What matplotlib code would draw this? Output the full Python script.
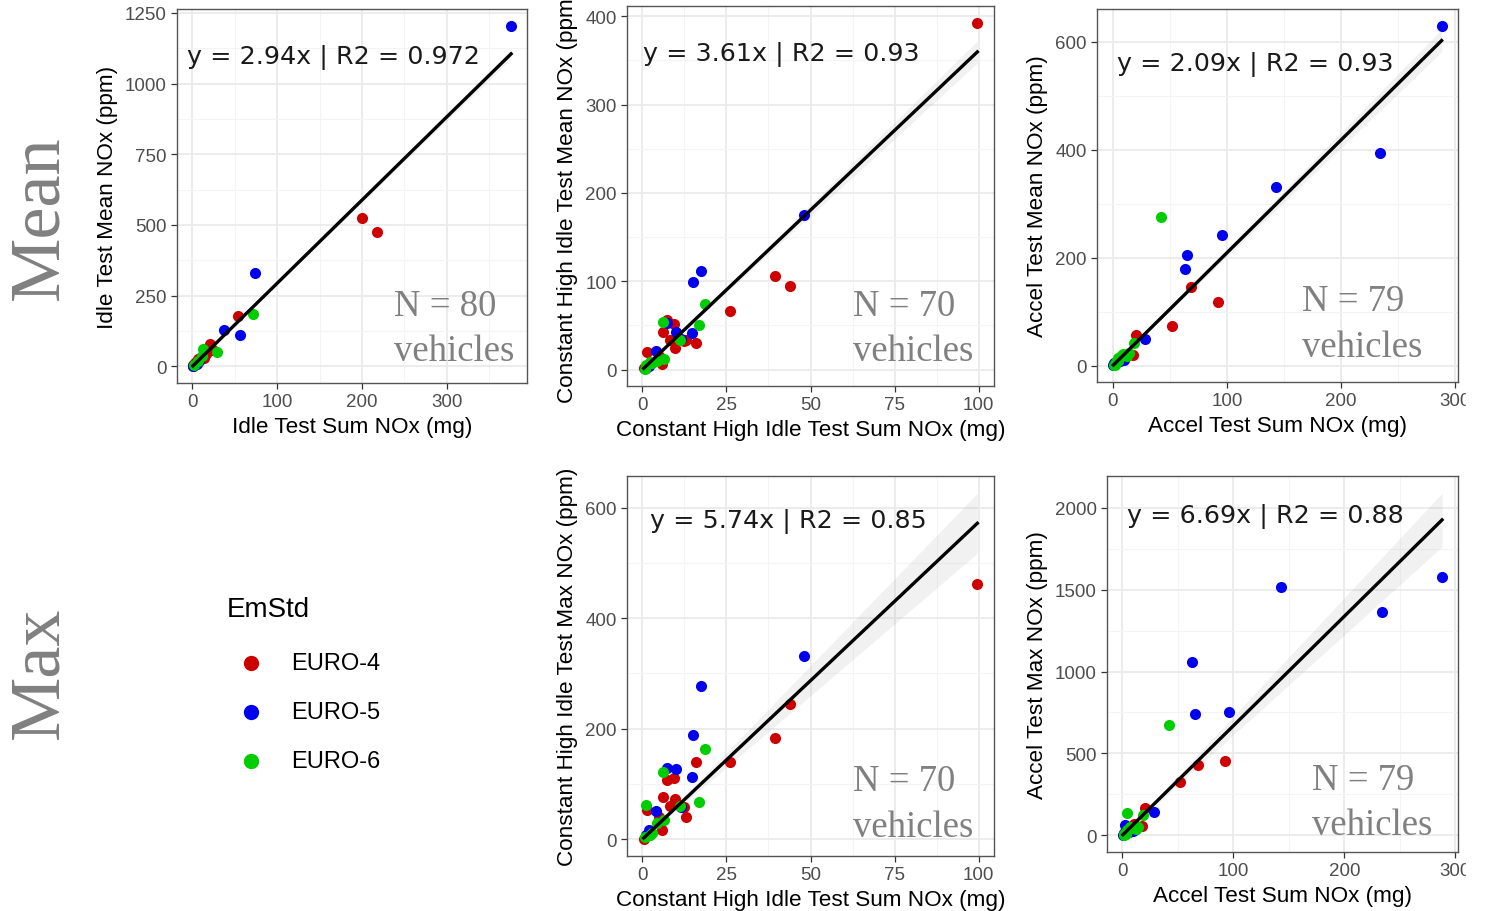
#NOx scatter grid: sum NOx (mg) vs mean / max NOx (ppm) per test, coloured by emission standard
import matplotlib.pyplot as plt
import numpy as np
from matplotlib.ticker import MultipleLocator
from matplotlib.lines import Line2D
from matplotlib.patches import Rectangle

#Data
std_names = ["EURO-4", "EURO-5", "EURO-6"]
std_colors = ["#CD0000", "#0000EE", "#00CD00"]

#Idle test
idle_sum = [376, 200, 218, 73.5, 53.5, 71, 36.8, 55.5, 21, 12.5, 29, 18, 9.4, 6, 1,
            1, 2, 3, 4, 5, 14, 16, 24, 11, 8, 0.5, 2, 7, 20, 13]
idle_mean = [1204, 523, 476, 330, 177, 185, 130, 111, 78, 62, 51, 55, 30, 25, 4,
             2, 6, 10, 15, 8, 40, 45, 58, 35, 20, 1, 3, 18, 62, 30]
idle_std = [5, 4, 4, 5, 4, 6, 5, 5, 4, 6, 6, 4, 4, 4, 4,
            5, 6, 4, 4, 5, 4, 4, 4, 6, 5, 4, 5, 6, 4, 4]

#Constant high idle test
chi_sum = [99.6, 48.2, 39.4, 43.9, 17.3, 15.0, 18.5, 26.2, 16.9, 14.7, 16.0, 6.2, 7.3, 10.0,
           7.3, 9.4, 6.0, 8.1, 11.3, 12.3, 11.5, 9.8, 12.9, 4.2, 1.4, 1.2, 6.3, 5.8, 2.4,
           1.1, 0.8, 1.9, 0.4, 3, 5, 2, 4.5]
chi_mean = [392, 175, 106.5, 94.7, 111.7, 99, 74, 66, 50, 42, 30, 54, 53, 43,
            56, 51.5, 43, 33, 34, 32, 35, 24, 34, 21, 20, 5, 12.5, 6, 8.7,
            2.3, 1, 5, 1.5, 7, 15, 4, 10]
chi_max = [461, 332, 184, 245, 278, 188, 164, 139, 67.6, 113, 139, 122, 128.6, 127.4,
           107, 110, 77, 60, 60, 58.5, 58.5, 72.4, 40.4, 51.3, 52.5, 61.6, 34, 17.5, 7,
           7, 4, 17.5, 1, 12, 40, 10, 30]
chi_std = [4, 5, 4, 4, 5, 5, 6, 4, 6, 5, 4, 6, 5, 5,
           4, 4, 4, 4, 6, 4, 5, 4, 4, 5, 4, 6, 6, 4, 6,
           5, 6, 5, 4, 6, 4, 5, 6]

#Accel test
acc_sum = [288, 234, 143, 96, 65, 63, 42, 92.5, 68.5, 51.5, 28.3, 20.5, 18.8, 18,
           10.5, 4.5, 2.1, 6, 12, 8.7, 10, 4.4, 1, 1.5, 6, 7, 3, 2, 5, 0.5, 3.5, 8, 1,
           12.5, 14]
acc_mean = [629, 394, 331, 242, 204, 178, 275, 118.6, 145.5, 73.7, 49, 56, 41, 19,
            16, 9, 4, 10, 18, 22, 11, 14, 4, 2, 8, 17, 6, 3, 12, 1, 7, 13, 2,
            20, 24]
acc_max = [1575, 1362, 1514, 752, 742, 1057, 673, 453, 431, 325, 144, 167, 126, 59,
           69, 136, 65, 20, 39, 45, 28, 30, 14, 4, 25, 50, 10, 8, 22, 2, 12, 32, 6,
           40, 48]
acc_std = [5, 5, 5, 5, 5, 5, 6, 4, 4, 4, 5, 4, 6, 4,
           4, 6, 5, 5, 6, 6, 5, 6, 5, 6, 5, 6, 6, 4, 4, 5, 5, 4, 6,
           5, 6]

#Fit results shown on each panel (slope, R2) and ribbon half width as fraction of fit
slopes = [2.94, 3.61, 2.09, 5.74, 6.69]
r2s = ["0.972", "0.93", "0.93", "0.85", "0.88"]
ci_frac = [0.015, 0.035, 0.035, 0.095, 0.085]
n_vehicles = [80, 70, 79, 70, 79]

#Figure
W, H = 1494, 912
fig = plt.figure(figsize=(W/100, H/100), dpi=100)
sans = "Liberation Sans"
serif = "Liberation Serif"

def add_panel(l, t, r, b):
    return fig.add_axes([l/W, 1-b/H, (r-l)/W, (b-t)/H])

def draw_panel(ax, x, y, std, k, xstep, ystep, xlabel, ylabel, eq_pos, n_pos):
    x = np.array(x, float)
    y = np.array(y, float)
    std = np.array(std)
    slope = slopes[k]
    # fit line + ribbon (through origin)
    xl = np.linspace(x.min(), x.max(), 50)
    yl = slope*xl
    half = ci_frac[k]*yl
    ax.fill_between(xl, yl-half, yl+half, color="#999999", alpha=0.13, lw=0, zorder=2)
    for i, name in enumerate(std_names):
        m = std == int(name[-1])
        ax.scatter(x[m], y[m], s=64, color=std_colors[i], lw=0, zorder=3)
    ax.plot(xl, yl, color="black", lw=2.4, zorder=4)
    # ggplot-like 5% expansion
    xlo, xhi = x.min(), x.max()
    ylo = min(y.min(), (yl-half).min())
    yhi = max(y.max(), (yl+half).max())
    ax.set_xlim(xlo-0.05*(xhi-xlo), xhi+0.05*(xhi-xlo))
    ax.set_ylim(ylo-0.05*(yhi-ylo), yhi+0.05*(yhi-ylo))
    ax.xaxis.set_major_locator(MultipleLocator(xstep))
    ax.xaxis.set_minor_locator(MultipleLocator(xstep/2))
    ax.yaxis.set_major_locator(MultipleLocator(ystep))
    ax.yaxis.set_minor_locator(MultipleLocator(ystep/2))
    ax.grid(True, which="major", color="#EBEBEB", lw=1.3, zorder=0)
    ax.grid(True, which="minor", color="#F4F4F4", lw=0.8, zorder=0)
    ax.set_axisbelow(True)
    for sp in ax.spines.values():
        sp.set_color("#555555")
        sp.set_linewidth(1.0)
    ax.tick_params(which="major", direction="out", length=4.5, width=0.9, color="#333333",
                   labelsize=13.5, labelcolor="#4D4D4D", pad=3)
    ax.tick_params(which="minor", length=0)
    for lab in ax.get_xticklabels() + ax.get_yticklabels():
        lab.set_fontfamily(sans)
    ax.set_xlabel(xlabel, fontsize=16.2, family=sans, labelpad=4)
    ax.set_ylabel(ylabel, fontsize=16.2, family=sans, labelpad=5)
    ax.text(eq_pos[0], eq_pos[1], "y = {0}x | R2 = {1}".format(slope, r2s[k]),
            transform=ax.transAxes, fontsize=18.3, family="DejaVu Sans", color="#1A1A1A",
            ha="left", va="center")
    ax.text(n_pos[0], n_pos[1], "N = {0}".format(n_vehicles[k]), transform=ax.transAxes,
            fontsize=26.5, family=serif, color="#808080", ha="left", va="center")
    ax.text(n_pos[0], n_pos[2], "vehicles", transform=ax.transAxes,
            fontsize=26.5, family=serif, color="#808080", ha="left", va="center")

ax1 = add_panel(177, 10, 527, 384)
draw_panel(ax1, idle_sum, idle_mean, idle_std, 0, 100, 250,
           "Idle Test Sum NOx (mg)", "Idle Test Mean NOx (ppm)",
           (0.029, 0.874), (0.62, 0.206, 0.086))

ax2 = add_panel(627, 7, 994, 387)
draw_panel(ax2, chi_sum, chi_mean, chi_std, 1, 25, 100,
           "Constant High Idle Test Sum NOx (mg)", "Constant High Idle Test Mean NOx (ppm)",
           (0.044, 0.874), (0.616, 0.21, 0.092))

ax3 = add_panel(1097, 10, 1458, 383)
draw_panel(ax3, acc_sum, acc_mean, acc_std, 2, 100, 200,
           "Accel Test Sum NOx (mg)", "Accel Test Mean NOx (ppm)",
           (0.055, 0.853), (0.568, 0.217, 0.094))

ax4 = add_panel(627, 477, 994, 857)
draw_panel(ax4, chi_sum, chi_max, chi_std, 3, 25, 200,
           "Constant High Idle Test Sum NOx (mg)", "Constant High Idle Test Max NOx (ppm)",
           (0.063, 0.882), (0.616, 0.197, 0.076))

ax5 = add_panel(1107, 477, 1458, 853)
draw_panel(ax5, acc_sum, acc_max, acc_std, 4, 100, 500,
           "Accel Test Sum NOx (mg)", "Accel Test Max NOx (ppm)",
           (0.057, 0.894), (0.584, 0.191, 0.072))

#Row labels
fig.text(40/W, 1-218/H, "Mean", rotation=90, fontsize=52, family=serif, color="#808080",
         ha="center", va="center")
fig.text(40/W, 1-673/H, "Max", rotation=90, fontsize=52, family=serif, color="#808080",
         ha="center", va="center")

#Legend
fig.text(227/W, 1-610/H, "EmStd", fontsize=20, family=sans, ha="left", va="center")
for i, name in enumerate(std_names):
    yy = 1-(664+49*i)/H
    fig.add_artist(Line2D([251/W], [yy], marker="o", ms=10, color=std_colors[i], lw=0,
                          transform=fig.transFigure))
    fig.text(291/W, yy, name, fontsize=17, family=sans, ha="left", va="center")

#Right edge of the composite is cropped
fig.add_artist(Rectangle((1466/W, 0), 1, 1, transform=fig.transFigure, color="white", zorder=10))

plt.savefig("out.png", dpi=100)
